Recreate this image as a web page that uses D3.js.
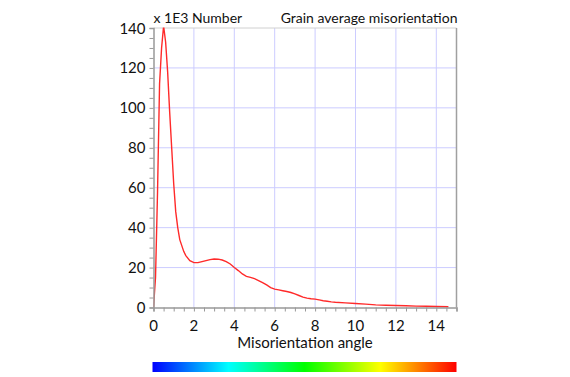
<!DOCTYPE html>
<html><head><meta charset="utf-8">
<script src="https://cdn.jsdelivr.net/npm/d3@7"></script>
<style>
body{margin:0;background:#fff;}
text{font-family:Lato,"Open Sans",sans-serif;fill:#111;}
</style></head><body>
<svg id="c" width="570" height="377"></svg>
<script>
const angles = [0,0.1,0.2,0.3,0.4,0.5,0.6,0.7,0.8,0.9,1.0,1.1,1.2,1.3,1.4,1.5,1.6,1.8,2.0,2.2,2.4,2.6,2.8,3.0,3.2,3.4,3.6,3.8,4.0,4.2,4.4,4.6,4.8,5.0,5.2,5.4,5.6,5.8,6.0,6.2,6.4,6.6,6.8,7.0,7.2,7.4,7.6,7.8,8.0,8.2,8.4,8.6,8.8,9.0,9.5,10,10.5,11,11.5,12,12.5,13,13.5,14,14.6];
const counts = [0,15,58,112,130,141,133,118,98,80,62,48,40,34,31,28,26,23.5,22.5,22.5,23,23.5,24,24.3,24.2,23.8,23,21.8,20,18.5,16.8,15.6,15.1,14.5,13.5,12.5,11.3,10,9.2,8.8,8.4,8.0,7.5,6.8,6.0,5.2,4.7,4.4,4.2,3.8,3.4,3.1,2.8,2.6,2.3,2.0,1.7,1.3,1.1,1.0,0.9,0.7,0.6,0.5,0.4];
const xTicks = [0,2,4,6,8,10,12,14];
const yTicks = [0,20,40,60,80,100,120,140];
const titleLeft = "x 1E3 Number";
const titleRight = "Grain average misorientation";
const xLabel = "Misorientation angle";
const rainbow = ["#0000ff","#00ffff","#00ff00","#ffff00","#ff0000"];

const svg = d3.select("#c");
const L=153.5, R=456.5, T=28, B=307.5;
const x = d3.scaleLinear().domain([0,15]).range([L,R]);
const y = d3.scaleLinear().domain([0,140]).range([B,T]);

// grid
const g = svg.append("g");
g.selectAll(".vg").data(xTicks.filter(d=>d>0)).join("line")
 .attr("x1",d=>x(d)).attr("x2",d=>x(d)).attr("y1",T).attr("y2",B)
 .attr("stroke","#ccccff").attr("stroke-width",1);
g.selectAll(".hg").data(yTicks.filter(d=>d>0&&d<140)).join("line")
 .attr("y1",d=>y(d)).attr("y2",d=>y(d)).attr("x1",L).attr("x2",R)
 .attr("stroke","#ccccff").attr("stroke-width",1);

// borders
svg.append("line").attr("x1",L).attr("x2",R).attr("y1",T).attr("y2",T).attr("stroke","#d0d0d0");
svg.append("line").attr("x1",R).attr("x2",R).attr("y1",T).attr("y2",B).attr("stroke","#a0a0a0").attr("stroke-width",1.5);

// clip
svg.append("clipPath").attr("id","pc").append("rect").attr("x",L).attr("y",T-0.5).attr("width",R-L).attr("height",B-T+1);

// line
const line = d3.line().x((d,i)=>x(angles[i])).y(d=>y(d));
svg.append("path").datum(counts).attr("d",line).attr("fill","none")
 .attr("stroke","#ff2a2a").attr("stroke-width",1.4).attr("clip-path","url(#pc)");

// axes
const xAxis = d3.axisBottom(x).tickValues(d3.range(0,15.01,0.5)).tickSize(4).tickFormat("");
const ax = svg.append("g").attr("transform",`translate(0,${B})`).call(xAxis);
const yAxis = d3.axisLeft(y).tickValues(d3.range(0,140.01,5)).tickSize(4).tickFormat("");
const ay = svg.append("g").attr("transform",`translate(${L},0)`).call(yAxis);
[ax,ay].forEach(a=>{a.select(".domain").attr("stroke","#999").attr("stroke-width",1.5);a.selectAll(".tick line").attr("stroke","#999");});

// tick labels
svg.selectAll(".xl").data(xTicks).join("text")
 .attr("x",d=>x(d)).attr("y",B+23).attr("text-anchor","middle")
 .style("font-size","15px").text(d=>d);
svg.selectAll(".yl").data(yTicks).join("text")
 .attr("x",L-8).attr("y",d=>y(d)+5.5).attr("text-anchor","end")
 .style("font-size","15px").text(d=>d);

// titles
svg.append("text").attr("x",L).attr("y",23).style("font-size","14px").text(titleLeft);
svg.append("text").attr("x",R+1).attr("y",23).attr("text-anchor","end").style("font-size","14px").text(titleRight);
svg.append("text").attr("x",(L+R)/2).attr("y",348).attr("text-anchor","middle").style("font-size","15px").text(xLabel);

// colorbar
const grad = svg.append("defs").append("linearGradient").attr("id","rb");
grad.selectAll("stop").data(rainbow).join("stop")
 .attr("offset",(d,i)=>(i/(rainbow.length-1)*100)+"%").attr("stop-color",d=>d);
svg.append("rect").attr("x",L-1).attr("y",362).attr("width",R-L+1).attr("height",10).attr("fill","url(#rb)");
</script>
</body></html>
